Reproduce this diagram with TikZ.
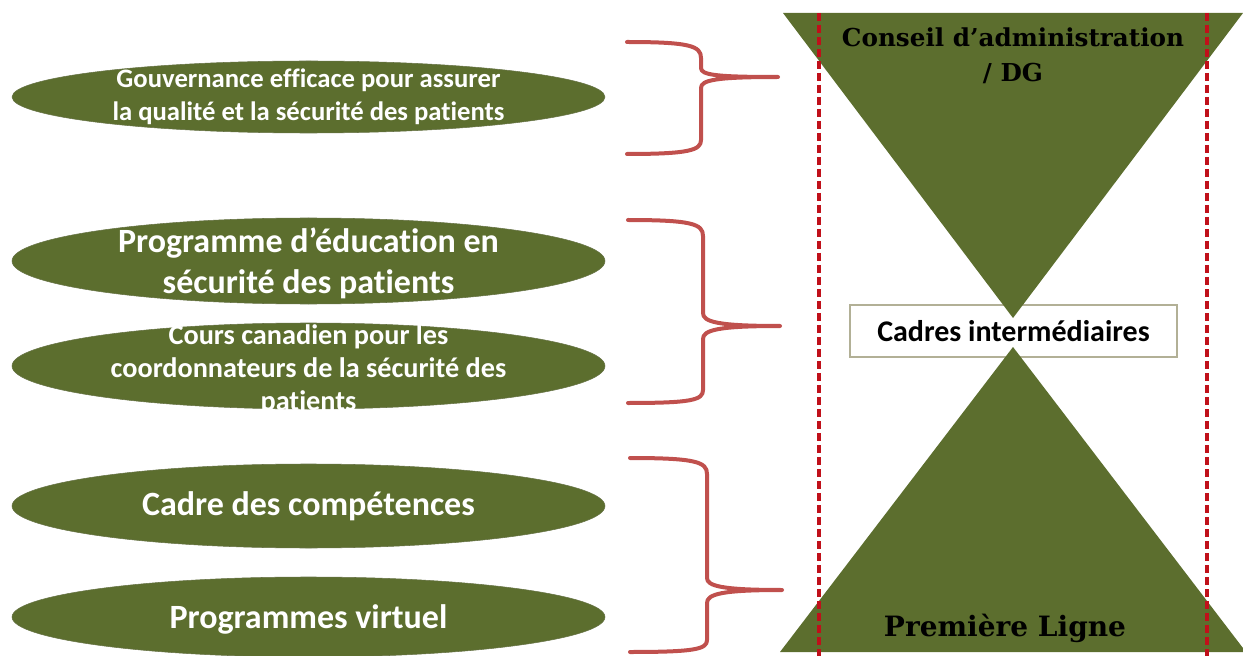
\documentclass[tikz,border=0pt]{standalone}
\usepackage{fontspec}
\setmainfont{Carlito}[Ligatures=NoCommon]
\newfontfamily\levelfont{DejaVu Serif}
\usetikzlibrary{shapes.geometric, positioning}
\definecolor{my_olive}{RGB}{92, 110, 46}
\definecolor{my_red}{RGB}{192, 80, 77}
\definecolor{my_darkred}{RGB}{192, 16, 26}
\definecolor{my_khaki}{RGB}{178, 176, 150}
\tikzset {
  pill/.style = {ellipse, fill=my_olive, draw=my_olive!70!gray, thin, inner sep=0pt, minimum width=444.75pt},
  pilltext/.style = {text=white, align=center, inner sep=0pt},
  brace/.style = {draw=my_red, line width=3pt, line cap=round, line join=round},
  guide/.style = {draw=my_darkred, line width=3pt, dash pattern=on 6pt off 3pt},
  level/.style = {fill=my_olive},
  leveltext/.style = {align=center, text=black, font=\levelfont\bfseries\fontsize{18.5}{26}\selectfont},
  midbox/.style = {rectangle, draw=my_khaki, line width=1.5pt, fill=white, minimum width=245pt, minimum height=39pt, inner sep=0pt},
  midtext/.style = {font=\bfseries\fontsize{22.5}{26}\selectfont, text=black}
}

\begin{document}
\begin{tikzpicture}[x=0.75pt, y=-0.75pt]
    \useasboundingbox (0,0) rectangle (1243,656);

    % left column
    \node[pill, minimum height=54pt, name=gov,
          label={[pilltext, font=\bfseries\fontsize{20}{24.75}\selectfont]center:Gouvernance efficace pour assurer\\la qualité et la sécurité des patients}] at (308.5,97) {};
    \node[pill, minimum height=64.5pt, name=edu,
          label={[pilltext, font=\bfseries\fontsize{25.5}{30.75}\selectfont, yshift=-2pt]center:Programme d’éducation en\\sécurité des patients}] at (308.5,261) {};
    \node[pill, minimum height=64.5pt, name=cours,
          label={[pilltext, font=\bfseries\fontsize{21.2}{24.75}\selectfont, yshift=-3pt]center:Cours canadien pour les\\coordonnateurs de la sécurité des\\patients}] at (308.5,366) {};
    \node[pill, minimum height=63pt, name=comp,
          label={[pilltext, font=\bfseries\fontsize{25.5}{30}\selectfont]center:Cadre des compétences}] at (308.5,506) {};
    \node[pill, minimum height=60pt, name=virt,
          label={[pilltext, font=\bfseries\fontsize{25.5}{30}\selectfont, yshift=-2pt]center:Programmes virtuel}] at (308.5,617) {};

    % braces
    \coordinate (tipA) at (778,77);
    \coordinate (tipB) at (780,326);
    \coordinate (tipC) at (782,590);
    \draw[brace] (627,42) .. controls (690,42) and (701,46) .. (701,58) -- (701,68)
        .. controls (701,75) and (716,77) .. (tipA)
        .. controls (716,77) and (701,80) .. (701,88) -- (701,140)
        .. controls (701,150) and (690,154) .. (627,154);
    \draw[brace] (628,220) .. controls (692,220) and (703,224) .. (703,236) -- (703,313)
        .. controls (703,322) and (718,326) .. (tipB)
        .. controls (718,326) and (703,330) .. (703,339) -- (703,390)
        .. controls (703,400) and (692,403) .. (628,403);
    \draw[brace] (630,458) .. controls (696,458) and (707,462) .. (707,474) -- (707,578)
        .. controls (707,586) and (722,590) .. (tipC)
        .. controls (722,590) and (707,594) .. (707,603) -- (707,640)
        .. controls (707,649) and (696,652) .. (630,652);

    % levels
    \node[midbox, name=cadresbox] at (1013.5,331) {};
    \fill[level] (783,13) -- (1243,13) -- (1013,318) -- cycle;
    \fill[level] (780,652) -- (1246,652) -- (1013,347) -- cycle;
    \node[midtext, name=cadres] at (cadresbox) {Cadres intermédiaires};
    \node[leveltext, name=conseil] at (1013,55.5) {Conseil d’administration\\/ DG};
    \node[leveltext, font=\levelfont\bfseries\fontsize{21}{24}\selectfont, name=premiere] at (1005,628) {Première Ligne};

    \draw[guide] (819,13) -- (819,656);
    \draw[guide] (1207,13) -- (1207,656);

\end{tikzpicture}
\end{document}
